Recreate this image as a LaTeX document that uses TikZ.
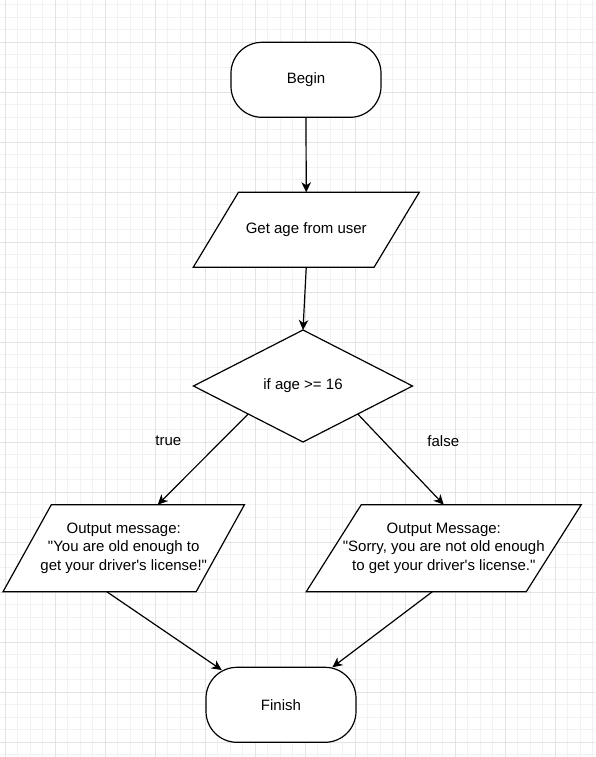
\documentclass[tikz,border=0pt]{standalone}
\usepackage{fontspec}
\setmainfont{Liberation Sans}[Ligatures=TeXOff]
\usetikzlibrary{shapes.geometric,arrows.meta,calc}
% parallelogram input/output box: name, cx, cy, width, height, text
\newcommand\myio[6]{%
  \draw[shp] ({#2-#4/2},{#3+#5/2}) -- ({#2-#4/2+0.2*#4},{#3-#5/2})
    -- ({#2+#4/2},{#3-#5/2}) -- ({#2+#4/2-0.2*#4},{#3+#5/2}) -- cycle;
  \node[txt,minimum width=#4pt,minimum height=#5pt] (#1) at (#2,#3) {#6};
}
\begin{document}
\begin{tikzpicture}[x=1pt,y=-1pt,
  minorgrid/.style={draw=black!5,line width=0.9pt},
  majorgrid/.style={draw=black!11,line width=0.9pt},
  shp/.style={draw=black,fill=white,line width=1.2pt},
  txt/.style={inner sep=0pt,outer sep=0pt,align=center,
    font=\fontsize{15pt}{18.5pt}\selectfont},
  base/.style={shp,txt},
  term/.style={base,rectangle,rounded corners=31pt,minimum width=150pt,minimum height=75pt},
  dec/.style={base,diamond,minimum width=219pt,minimum height=112pt},
  lbl/.style={txt},
  arr/.style={draw=black,line width=1.2pt,-{Stealth[length=10pt,width=9.5pt,inset=3pt]}}
]
\useasboundingbox (0,0) rectangle (595,757);
\fill[white] (0,0) rectangle (595,757);
% grid
\foreach \i in {0,...,47} \draw[minorgrid] ({5+12.5*\i},0) -- ({5+12.5*\i},757);
\foreach \j in {1,...,61} \draw[minorgrid] (0,{-7.7+12.5*\j}) -- (595,{-7.7+12.5*\j});
\foreach \i in {0,...,11} \draw[majorgrid] ({5+50*\i},0) -- ({5+50*\i},757);
\foreach \j in {0,...,14} \draw[majorgrid] (0,{42.3+50*\j}) -- (595,{42.3+50*\j});
% nodes
\node[term] (begin) at (306,79.8) {Begin};
\myio{get}{306.25}{229.8}{226}{75}{Get age from user}
\node[dec] (dec) at (303,386) {if age >= 16};
\myio{out1}{123.75}{548.2}{241.4}{87}
  {Output message:\\"You are old enough to\\get your driver's license!"}
\myio{out2}{443.75}{548.2}{275}{87}
  {Output Message:\\"Sorry, you are not old enough\\to get your driver's license."}
\node[term] (fin) at (281,704.8) {Finish};
\node[lbl] (ltrue) at (168.3,440.7) {true};
\node[lbl] (lfalse) at (443.3,440.7) {false};
% connectors
\draw[arr] (begin.south) -- (get.north);
\draw[arr] (get.south) -- (dec.north);
\draw[arr] (dec.south west) -- ([xshift=34pt]out1.north);
\draw[arr] (dec.south east) -- (out2.north);
\draw[arr] ([xshift=-17pt]out1.south) -- ([shift={(-59.3,-34.8)}]fin.center);
\draw[arr] ([xshift=-11.4pt]out2.south) -- ([shift={(51.3,-37.5)}]fin.center);
\end{tikzpicture}
\end{document}
